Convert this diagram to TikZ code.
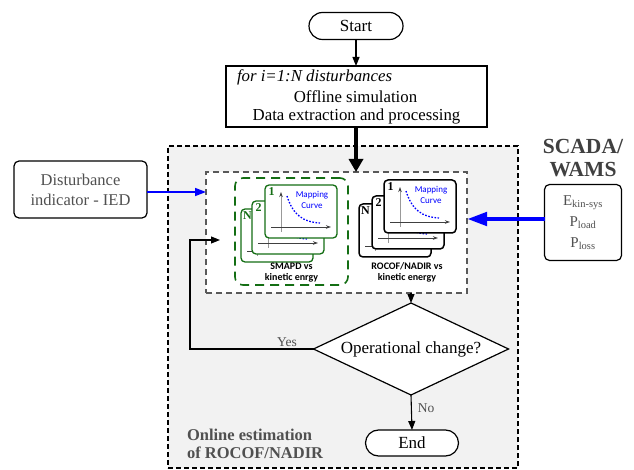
\documentclass[tikz,border=0pt]{standalone}
\usepackage{fontspec}
\setmainfont{Liberation Serif}
\newfontfamily\labelsans{Carlito}
\usetikzlibrary{arrows.meta,shapes.geometric,shapes.misc}

\definecolor{zonefill}{HTML}{F2F2F2}
\definecolor{cardgreen}{RGB}{20,110,20}
\definecolor{linkblue}{RGB}{0,0,255}
\definecolor{softgray}{HTML}{505050}
\definecolor{titlegray}{HTML}{404040}

\newcommand\fsz[2]{\fontsize{#1}{#2}\selectfont}

\tikzset{
  every node/.style={inner sep=0pt, outer sep=0pt},
  pill/.style={rounded rectangle, draw, line width=1.2pt, fill=white,
    minimum width=94pt, minimum height=27pt, font=\fsz{17}{19}},
  procbox/.style={draw, line width=1.3pt, fill=white,
    minimum width=261pt, minimum height=61pt},
  zone/.style={draw, dash pattern=on 5pt off 3pt, line width=1.2pt, fill=zonefill},
  innerzone/.style={draw=black!65, dash pattern=on 6pt off 4pt, line width=1.3pt, fill=white},
  greenzone/.style={draw=cardgreen, dash pattern=on 9pt off 6pt, line width=1.6pt,
    rounded corners=8pt},
  sidebox/.style={draw, line width=1.2pt, fill=white, rounded corners=5pt},
  decision/.style={diamond, draw, line width=1.2pt, fill=white,
    minimum width=195pt, minimum height=92pt},
  arr/.style={line width=1.1pt, -{Triangle[length=9pt,width=7pt]}},
  thickarr/.style={line width=4.5pt, -{Triangle[length=13pt,width=14pt]}},
  bluearr/.style={linkblue, line width=1.6pt, -{Triangle[length=11pt,width=8pt]}},
  bigbluearr/.style={linkblue, line width=4.5pt, -{Triangle[length=20pt,width=13pt]}},
  graytext/.style={text=softgray},
  cardlabel/.style={font=\labelsans\fsz{9}{9}, text=linkblue},
  % one mapping card: number, frame colour, frame width
  pics/mapcard/.style n args={3}{code={
    \node[draw=#2, line width=#3, fill=white, rounded corners=4pt,
      minimum width=72pt, minimum height=53pt, anchor=north west] (-frame) at (0,0) {};
    \node[font=\bfseries\fsz{12}{12}, text=#2] (-num) at (6.5,6.5) {#1};
    \draw[black!40, line width=0.8pt,
      -{Stealth[length=5pt,width=3.5pt,color=black!75]}] (16,47) -- (16,7);
    \draw[black!75, line width=0.9pt,
      -{Stealth[length=5pt,width=3.5pt]}] (6,42) -- (66,42);
    \draw[linkblue, line width=1.3pt, dash pattern=on 1.6pt off 1.6pt]
      (22,11) .. controls (28,30) and (38,37) .. (55,38);
  }}
}

\begin{document}
\begin{tikzpicture}[x=1pt,y=-1pt]
\useasboundingbox (0,0) rectangle (634,470);
\fill[white] (0,0) rectangle (634,470);

% online estimation zone and its inner block
\node[zone, minimum width=350pt, minimum height=322pt] (outer) at (343,307) {};
\node[innerzone, minimum width=261pt, minimum height=121pt] (inner) at (336.5,232.5) {};
\node[greenzone, minimum width=113pt, minimum height=107pt] (gbox) at (291.5,231.5) {};

% SMAPD cards
\pic (gN) at (241,209) {mapcard={N}{cardgreen}{1.3pt}};
\pic (g2) at (252,201) {mapcard={2}{cardgreen}{1.3pt}};
\pic (g1) at (265,185) {mapcard={1}{cardgreen}{1.3pt}};
\node[cardlabel] (gmap) at (312,195) {Mapping};
\node[cardlabel] (gcurve) at (312,206) {Curve};
\node[font=\labelsans\bfseries\fsz{10}{11}, align=center] (gcap) at (291.5,272.5)
  {SMAPD vs\\kinetic enrgy};

% ROCOF/NADIR cards
\pic (rN) at (359,204) {mapcard={N}{black}{1.5pt}};
\pic (r2) at (372,196) {mapcard={2}{black}{1.5pt}};
\pic (r1) at (384,180) {mapcard={1}{black}{1.5pt}};
\node[cardlabel] (rmap) at (431,190) {Mapping};
\node[cardlabel] (rcurve) at (431,201) {Curve};
\node[font=\labelsans\bfseries\fsz{10}{11}, align=center] (rcap) at (407,272.5)
  {ROCOF/NADIR vs\\kinetic energy};

% offline stage
\node[pill] (start) at (356,26) {Start};
\node[procbox] (offline) at (356.5,96.5) {};
\node[font=\itshape\fsz{16.8}{19}, anchor=west] (loop) at (237,77) {for i=1:N disturbances};
\node[font=\fsz{16.8}{19}] (sim) at (355.5,97) {Offline simulation};
\node[font=\fsz{16.8}{19}] (proc) at (356.5,116.5) {Data extraction and processing};

% side inputs
\node[sidebox, minimum width=133pt, minimum height=57pt, align=center, graytext,
  font=\fsz{16.5}{20}] (dist) at (80.5,189.5) {Disturbance\\indicator - IED};
\node[font=\bfseries\fsz{21.5}{23}, text=titlegray, align=center] (scadatitle)
  at (583,158.5) {SCADA/\\WAMS};
\node[sidebox, minimum width=77pt, minimum height=76pt] (scada) at (583,222.5) {};
\node[graytext, font=\fsz{15}{21}, align=center] (meas) at (scada.center)
  {E\textsubscript{kin-sys}\\P\textsubscript{load}\\P\textsubscript{loss}};

% decision and end
\node[decision] (dec) at (411,349) {};
\node[font=\fsz{17}{19}] (dectext) at (dec.center) {Operational change?};
\node[pill, minimum width=93pt, minimum height=26pt] (end) at (412,443) {End};

\node[font=\bfseries\fsz{16.5}{18}, graytext, align=left, anchor=west] (ontitle)
  at (187,444) {Online estimation\\of ROCOF/NADIR};

% connectors
\draw[arr] (start.south) -- (start.south |- offline.north);
\draw[thickarr] (start.south |- offline.south) -- (start.south |- inner.north);
\draw[bluearr] ([yshift=-2.5pt]dist.east) -- ([yshift=-2.5pt]dist.east -| inner.west);
\draw[bigbluearr] ([yshift=3.5pt]scada.west) -- ([yshift=3.5pt]scada.west -| inner.east);
\draw[arr] (inner.south -| dec.north) -- (dec.north);

\coordinate (loopcorner) at (190,240);
\coordinate (loopend) at (220,240);
\draw[arr] (dec.west) -- (dec.west -| loopcorner) -- (loopcorner) -- (loopend);
\node[graytext, font=\fsz{13.5}{14}] (yes) at (287,342) {Yes};

\draw[arr] (dec.south) -- (end.north);
\node[graytext, font=\fsz{13.5}{14}] (no) at (426,408) {No};
\end{tikzpicture}
\end{document}
